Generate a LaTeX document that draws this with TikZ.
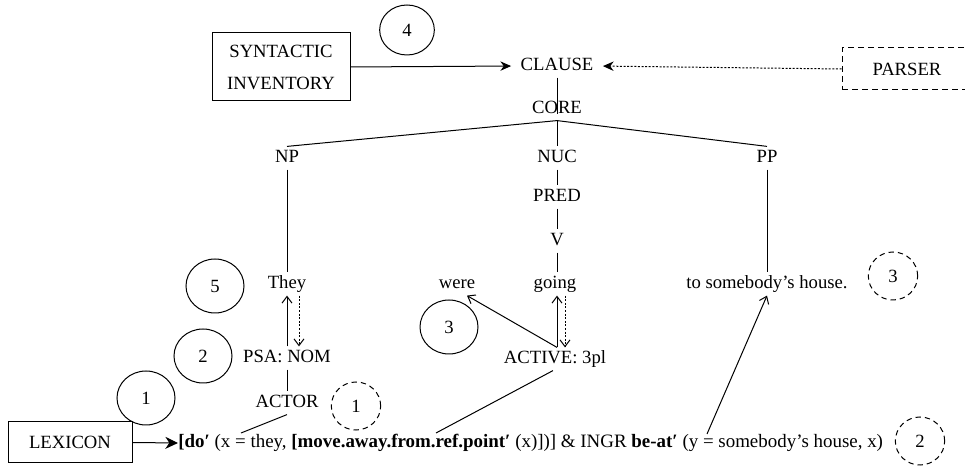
\documentclass[tikz,border=0pt]{standalone}
\usepackage{fontspec}
\setmainfont{Liberation Serif}
\usetikzlibrary{arrows.meta,shapes.geometric}
\begin{document}
\begin{tikzpicture}[x=0.75pt,y=-0.75pt,
  every node/.style={font=\fontsize{14}{24}\selectfont, inner sep=0pt},
  lbl/.style={text height=10pt,text depth=3pt,inner sep=2pt},
  box/.style={draw,line width=0.75pt},
  num/.style={draw,ellipse,line width=0.75pt,minimum width=43.5pt,minimum height=40.5pt},
  dnum/.style={num,dash pattern=on 4pt off 3pt,minimum width=37pt,minimum height=36pt},
  edge/.style={line width=0.75pt},
  fill arrow/.style={edge,-{Stealth[length=8pt,width=7pt,inset=2.5pt]}},
  big arrow/.style={edge,-{Stealth[length=9.5pt,width=9pt,inset=3pt]}},
  open arrow/.style={edge,-{Straight Barb[length=5pt,width=7.5pt]}},
  dots/.style={dash pattern=on 1.5pt off 1.2pt}]
\useasboundingbox (0,0) rectangle (965,466);

% tree labels
\node[lbl] (clause) at (557,66) {CLAUSE};
\node[lbl] (core)   at (557,109) {CORE};
\node[lbl] (np)     at (287,158) {NP};
\node[lbl] (nuc)    at (557,158) {NUC};
\node[lbl] (pp)     at (767,158) {PP};
\node[lbl] (pred)   at (557,197) {PRED};
\node[lbl] (v)      at (557,241) {V};
\node[lbl] (they)   at (287,284) {They};
\node[lbl] (were)   at (457,284) {were};
\node[lbl] (going)  at (555,284) {going};
\node[lbl] (house)  at (767,284) {to somebody’s house.};
\node[lbl] (psa)    at (287,358) {PSA: NOM};
\node[lbl] (active) at (555,359) {ACTIVE: 3pl};
\node[lbl] (actor)  at (287,403) {ACTOR};

% boxes
\node[box,minimum width=103.5pt,minimum height=51pt,align=center] (syn) at (281,67) {SYNTACTIC\\INVENTORY};
\node[box,dash pattern=on 4.5pt off 3pt,minimum width=97.5pt,minimum height=31.5pt] (parser) at (907,69) {PARSER};
\node[box,minimum width=93pt,minimum height=30.75pt] (lex) at (70,442.5) {LEXICON};

% semantic representation
\node[anchor=west,text height=10pt,text depth=3pt,font=\fontsize{14.2}{24}\selectfont] (sem) at (178,443)
  {\textbf{[do′} (x = they, \textbf{[move.away.from.ref.point′} (x)])] \& INGR \textbf{be-at′} (y = somebody’s house, x)};
\coordinate (f1) at (241,433);
\coordinate (f2) at (436,433);
\coordinate (f3) at (707,434);

% numbered markers
\node[num,minimum width=41pt,minimum height=37.5pt] (n4) at (407,30) {4};
\node[num] (n5) at (215,286) {5};
\node[num] (n2) at (203,356) {2};
\node[num] (n1) at (146,398) {1};
\node[num] (n3) at (449,327) {3};
\node[dnum] (d1) at (356,406) {1};
\node[dnum] (d3) at (893,276) {3};
\node[dnum] (d2) at (920,441) {2};

% connectors
\draw[fill arrow,shorten >=5pt] (syn.east) -- (clause.west);
\draw[fill arrow,dots,shorten >=5pt] (parser.west) -- (clause.east);
\draw[edge] (clause.south) -- ([yshift=5pt]core.south);
\draw[edge] (np.north) -- (core.south) -- (pp.north);
\draw[edge] (core.south) -- (nuc.north);
\draw[edge] (np.south) -- (they.north);
\draw[edge] (nuc.south) -- (pred.north);
\draw[edge] (pred.south) -- (v.north);
\draw[edge] (v.south) -- (v.south |- going.north);
\draw[edge] (pp.south) -- (house.north);

\draw[open arrow] (psa.north) -- (they.south);
\draw[open arrow,dots] ([xshift=9pt]they.south) -- ([xshift=9pt]psa.north);
\draw[edge] (psa.south) -- (actor.north);
\draw[edge] (actor.south) -- (f1);

\draw[open arrow] ([xshift=1.5pt]active.north) -- ([xshift=1.5pt]going.south);
\draw[open arrow,dots] ([xshift=7.5pt]going.south) -- ([xshift=7.5pt]active.north);
\draw[open arrow] ([xshift=1.5pt]active.north) -- ([xshift=7.5pt]were.south);
\draw[edge] ([xshift=-1.5pt]active.south) -- (f2);
\draw[open arrow] (f3) -- (house.south);

\draw[big arrow] (lex.east) -- (sem.west);
\end{tikzpicture}
\end{document}
